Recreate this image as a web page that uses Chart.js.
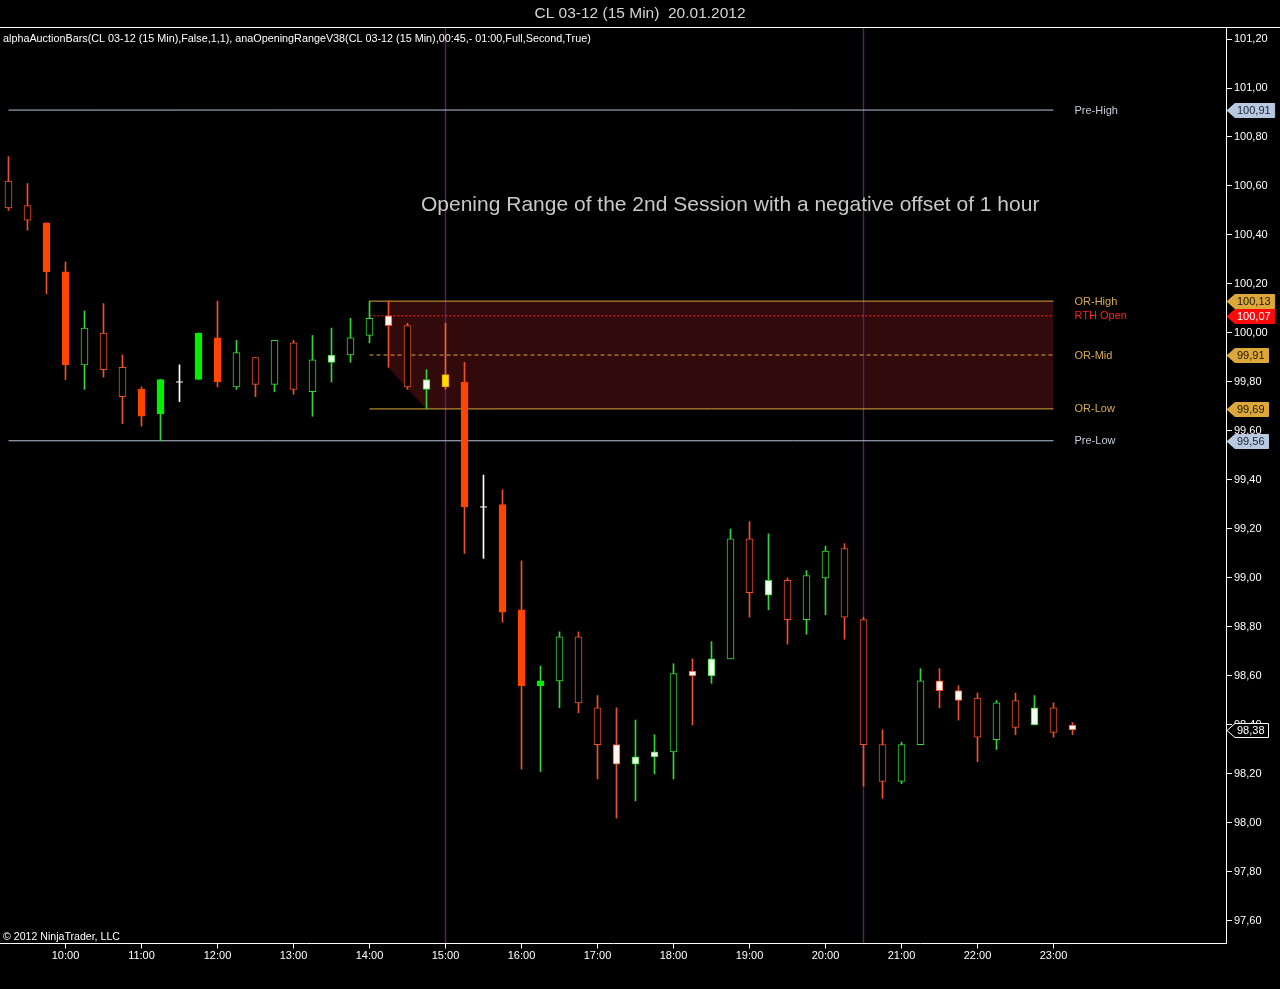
<!DOCTYPE html>
<html>
<head>
<meta charset="utf-8">
<title>CL 03-12 (15 Min) 20.01.2012</title>
<script src="https://cdn.jsdelivr.net/npm/chart.js@4.4.1/dist/chart.umd.min.js"></script>
<style>
    html, body { margin: 0; padding: 0; background: #000; overflow: hidden; }
    #wrap { width: 1280px; height: 989px; position: relative; }
</style>
</head>
<body>
<div id="wrap"><canvas id="chart"></canvas></div>
<script>
// 15 minute bars, CL 03-12, 20.01.2012
const barTimes = [
    "09:15", "09:30", "09:45",
    "10:00", "10:15", "10:30", "10:45", "11:00", "11:15", "11:30", "11:45",
    "12:00", "12:15", "12:30", "12:45", "13:00", "13:15", "13:30", "13:45",
    "14:00", "14:15", "14:30", "14:45", "15:00", "15:15", "15:30", "15:45",
    "16:00", "16:15", "16:30", "16:45", "17:00", "17:15", "17:30", "17:45",
    "18:00", "18:15", "18:30", "18:45", "19:00", "19:15", "19:30", "19:45",
    "20:00", "20:15", "20:30", "20:45", "21:00", "21:15", "21:30", "21:45",
    "22:00", "22:15", "22:30", "22:45", "23:00", "23:15"
];
const opens = [
    100.62, 100.52, 100.45, 100.25, 99.87, 100.00, 99.86, 99.77, 99.67, 99.80,
    99.81, 99.98, 99.78, 99.90, 99.79, 99.96, 99.76, 99.88, 99.91, 99.99,
    100.07, 100.03, 99.77, 99.83, 99.80, 99.29, 99.30, 98.87, 98.56, 98.58,
    98.76, 98.47, 98.32, 98.24, 98.27, 98.29, 98.62, 98.60, 98.67, 99.16,
    98.93, 98.99, 98.83, 99.00, 99.12, 98.83, 98.32, 98.17, 98.32, 98.58,
    98.54, 98.51, 98.34, 98.50, 98.40, 98.47, 98.40
];
const highs = [
    100.72, 100.61, 100.45, 100.29, 100.09, 100.12, 99.91, 99.78, 99.81, 99.87,
    100.00, 100.13, 99.97, 99.90, 99.97, 99.97, 99.99, 100.02, 100.06, 100.13,
    100.13, 100.04, 99.85, 100.04, 99.88, 99.42, 99.36, 99.07, 98.64, 98.78,
    98.78, 98.52, 98.47, 98.42, 98.36, 98.65, 98.67, 98.74, 99.20, 99.23,
    99.18, 99.00, 99.03, 99.13, 99.14, 98.84, 98.38, 98.33, 98.63, 98.63,
    98.56, 98.53, 98.50, 98.53, 98.52, 98.49, 98.41
];
const lows = [
    100.50, 100.42, 100.16, 99.81, 99.77, 99.82, 99.63, 99.62, 99.56, 99.72,
    99.81, 99.78, 99.77, 99.74, 99.76, 99.75, 99.66, 99.80, 99.88, 99.96,
    99.86, 99.77, 99.69, 99.77, 99.10, 99.08, 98.82, 98.22, 98.21, 98.47,
    98.45, 98.18, 98.02, 98.09, 98.20, 98.18, 98.40, 98.57, 98.67, 98.84,
    98.87, 98.73, 98.77, 98.85, 98.75, 98.15, 98.10, 98.16, 98.32, 98.47,
    98.42, 98.25, 98.30, 98.36, 98.40, 98.35, 98.36
];
const closes = [
    100.51, 100.46, 100.25, 99.87, 100.02, 99.85, 99.74, 99.66, 99.81, 99.80,
    100.00, 99.80, 99.92, 99.79, 99.97, 99.77, 99.89, 99.91, 99.98, 100.06,
    100.03, 99.78, 99.81, 99.78, 99.29, 99.29, 98.86, 98.56, 98.58, 98.76,
    98.49, 98.32, 98.24, 98.27, 98.29, 98.61, 98.60, 98.67, 99.16, 98.94,
    98.99, 98.83, 99.01, 99.11, 98.84, 98.32, 98.17, 98.32, 98.58, 98.54,
    98.50, 98.35, 98.49, 98.39, 98.47, 98.37, 98.38
];
// alphaAuctionBars signal per bar:
// r/R = sell (hollow/solid), g/G = buy (hollow/solid),
// w = weak sell, v = weak buy, y = absorption, x = doji
const barKind = [
    "r", "r", "R", "R", "g", "r", "r", "R", "G", "x",
    "G", "R", "g", "r", "g", "r", "g", "v", "g", "g",
    "w", "r", "v", "y", "R", "x", "R", "R", "G", "g",
    "r", "r", "w", "v", "v", "g", "w", "v", "g", "r",
    "v", "r", "g", "g", "r", "r", "r", "g", "g", "w",
    "w", "r", "g", "r", "v", "r", "w"
];
const priceTicks = [
    97.6, 97.8, 98.0, 98.2, 98.4, 98.6, 98.8, 99.0, 99.2, 99.4,
    99.6, 99.8, 100.0, 100.2, 100.4, 100.6, 100.8, 101.0, 101.2
];

// opening range levels
const levelNames = ["Pre-High", "OR-High", "RTH Open", "OR-Mid", "OR-Low", "Pre-Low"];
const levelValues = [100.91, 100.13, 100.07, 99.91, 99.69, 99.56];
// developing low of the opening range (lower edge of the shaded box)
const orDevBars = [20, 21, 22, 55];
const orDevLows = [99.86, 99.77, 99.69, 99.69];
const orStartBar = 19;
const lastPlotBar = 55;
const sessionBreakBars = [23, 45];

const Y_MIN = 97.51;
const Y_MAX = 101.249;
const X_MIN = -0.447;
const X_MAX = 64.079;

const FONT = '"Liberation Sans", Arial, sans-serif';

const RED = "#EC5129";
const GREEN = "#36D436";
const kindStyle = {
    r: { fill: "#000000", edge: RED, wick: RED },
    R: { fill: "#FF4500", edge: "#FF4500", wick: RED },
    g: { fill: "#000000", edge: GREEN, wick: GREEN },
    G: { fill: "#00F000", edge: "#00F000", wick: GREEN },
    w: { fill: "#FFF4EE", edge: RED, wick: RED },
    v: { fill: "#EEFFEE", edge: GREEN, wick: GREEN },
    y: { fill: "#FFE000", edge: "#E89A00", wick: "#E8642A" },
    x: { fill: "#FFFFFF", edge: "#FFFFFF", wick: "#FFFFFF" },
};
const levelStyle = {
    "Pre-High": { line: "#B4C4DC", text: "#C4CCDA", tag: "#B8C8E0", tagText: "#1A2030", dash: [] },
    "OR-High": { line: "#D9A63C", text: "#D8AC4C", tag: "#DCA83A", tagText: "#201400", dash: [] },
    "RTH Open": { line: "#FF2A2A", text: "#FF2020", tag: "#FF0A0A", tagText: "#FFFFFF", dash: [2, 2] },
    "OR-Mid": { line: "#D9A63C", text: "#D8AC4C", tag: "#DCA83A", tagText: "#201400", dash: [4, 3] },
    "OR-Low": { line: "#D9A63C", text: "#D8AC4C", tag: "#DCA83A", tagText: "#201400", dash: [] },
    "Pre-Low": { line: "#B4C4DC", text: "#C4CCDA", tag: "#B8C8E0", tagText: "#1A2030", dash: [] },
};

const fmtPrice = (v) => v.toFixed(2).replace(".", ",");

// candle bodies and wicks as floating bars
const bodyData = [];
const wickData = [];
const dojiData = [];
barTimes.forEach((t, i) => {
    wickData.push({ x: i, y: [lows[i], highs[i]] });
    if (barKind[i] === "x") {
        dojiData.push({ x: i, y: closes[i] });
    } else {
        bodyData.push({ x: i, y: [Math.min(opens[i], closes[i]), Math.max(opens[i], closes[i])] });
    }
});

// horizontal level lines
function levelLine(name) {
    const idx = levelNames.indexOf(name);
    const from = name.startsWith("Pre") ? 0 : orStartBar;
    const st = levelStyle[name];
    return {
        type: "line",
        data: [{ x: from, y: levelValues[idx] }, { x: lastPlotBar, y: levelValues[idx] }],
        borderColor: st.line,
        borderWidth: 1,
        borderDash: st.dash,
        pointRadius: 0,
        pointHoverRadius: 0,
        fill: false,
        order: 2,
    };
}

const datasets = [
    {
        type: "bar",
        data: bodyData,
        grouped: false,
        barThickness: 7,
        borderWidth: 1,
        borderSkipped: false,
        backgroundColor: (c) => c.raw ? kindStyle[barKind[c.raw.x]].fill : "#000",
        borderColor: (c) => c.raw ? kindStyle[barKind[c.raw.x]].edge : "#000",
        order: 0,
    },
    {
        type: "bar",
        data: wickData,
        grouped: false,
        barThickness: 1,
        borderWidth: 0,
        backgroundColor: (c) => c.raw ? kindStyle[barKind[c.raw.x]].wick : "#000",
        order: 1,
    },
    {
        type: "line",
        data: dojiData,
        showLine: false,
        pointStyle: "line",
        pointRadius: 3.5,
        pointHoverRadius: 0,
        pointBorderColor: "#FFFFFF",
        pointBorderWidth: 1,
        order: 0,
    },
    // opening range box: OR-High down to the developing low
    {
        type: "line",
        data: [{ x: orDevBars[0], y: levelValues[1] }, { x: lastPlotBar, y: levelValues[1] }],
        borderWidth: 0,
        pointRadius: 0,
        pointHoverRadius: 0,
        fill: "+1",
        backgroundColor: "#320A0C",
        order: 5,
    },
    {
        type: "line",
        data: orDevBars.map((b, k) => ({ x: b, y: orDevLows[k] })),
        borderWidth: 0,
        pointRadius: 0,
        pointHoverRadius: 0,
        fill: false,
        order: 5,
    },
    levelLine("Pre-High"),
    levelLine("OR-High"),
    levelLine("RTH Open"),
    levelLine("OR-Mid"),
    levelLine("OR-Low"),
    levelLine("Pre-Low"),
];

// session break verticals
sessionBreakBars.forEach((b) => {
    datasets.push({
        type: "line",
        data: [{ x: b, y: Y_MIN }, { x: b, y: Y_MAX }],
        borderColor: "#5E1F66",
        borderWidth: 1.4,
        pointRadius: 0,
        pointHoverRadius: 0,
        fill: false,
        order: 3,
    });
});

function drawTag(ctx, x0, y, text, fill, stroke, textColor) {
    ctx.font = "11px " + FONT;
    const w = ctx.measureText(text).width + 5;
    const h = 14;
    const top = Math.round(y - h / 2) + 0.5;
    ctx.beginPath();
    ctx.moveTo(x0, top + h / 2);
    ctx.lineTo(x0 + 8, top);
    ctx.lineTo(x0 + 9 + w, top);
    ctx.lineTo(x0 + 9 + w, top + h);
    ctx.lineTo(x0 + 8, top + h);
    ctx.closePath();
    ctx.fillStyle = fill;
    ctx.fill();
    ctx.strokeStyle = stroke;
    ctx.lineWidth = 1;
    ctx.stroke();
    ctx.fillStyle = textColor;
    ctx.textAlign = "left";
    ctx.textBaseline = "middle";
    ctx.fillText(text, x0 + 10, top + h / 2 + 0.5);
}

const hourTicks = barTimes.map((t, i) => (t.endsWith(":00") ? i : -1)).filter((i) => i >= 0);

const overlayPlugin = {
    id: "overlay",
    afterDraw(chart) {
        const { ctx, chartArea, scales } = chart;
        const xs = scales.x;
        const ys = scales.y;
        ctx.save();

        // frame line under the title
        ctx.strokeStyle = "#FFFFFF";
        ctx.lineWidth = 1;
        ctx.beginPath();
        ctx.moveTo(0, Math.floor(chartArea.top) + 0.5);
        ctx.lineTo(chart.width, Math.floor(chartArea.top) + 0.5);
        ctx.stroke();

        // hour tick marks below the time axis
        const axisY = Math.floor(chartArea.bottom) + 0.5;
        hourTicks.forEach((i) => {
            const px = Math.floor(xs.getPixelForValue(i)) + 0.5;
            ctx.beginPath();
            ctx.moveTo(px, axisY);
            ctx.lineTo(px, axisY + 5);
            ctx.stroke();
        });

        ctx.fillStyle = "#FFFFFF";
        ctx.textAlign = "left";
        ctx.textBaseline = "middle";
        ctx.font = "10.8px " + FONT;
        ctx.fillText(
            "alphaAuctionBars(CL 03-12 (15 Min),False,1,1), anaOpeningRangeV38(CL 03-12 (15 Min),00:45,- 01:00,Full,Second,True)",
            3, 39
        );
        ctx.font = "10.6px " + FONT;
        ctx.fillText("\u00A9 2012 NinjaTrader, LLC", 3, 937);

        ctx.fillStyle = "#C8C8C8";
        ctx.font = "21px " + FONT;
        ctx.fillText("Opening Range of the 2nd Session with a negative offset of 1 hour", 421, 205);

        // level captions and price tags
        const labelX = xs.getPixelForValue(lastPlotBar) + 21;
        levelNames.forEach((name, i) => {
            const st = levelStyle[name];
            const py = ys.getPixelForValue(levelValues[i]);
            ctx.font = "11px " + FONT;
            ctx.fillStyle = st.text;
            ctx.textAlign = "left";
            ctx.textBaseline = "middle";
            ctx.fillText(name, labelX, py + 0.5);
            drawTag(ctx, chartArea.right + 1, py, fmtPrice(levelValues[i]), st.tag, st.tag, st.tagText);
        });
        const last = closes[closes.length - 1];
        drawTag(ctx, chartArea.right + 1, ys.getPixelForValue(last), fmtPrice(last), "#000000", "#FFFFFF", "#FFFFFF");

        ctx.restore();
    },
};

new Chart(document.getElementById("chart"), {
    type: "bar",
    data: { datasets: datasets },
    plugins: [overlayPlugin],
    options: {
        responsive: true,
        maintainAspectRatio: false,
        animation: false,
        events: [],
        layout: { padding: 0, autoPadding: false },
        plugins: {
            legend: { display: false },
            tooltip: { enabled: false },
            title: {
                display: true,
                text: "CL 03-12 (15 Min)  20.01.2012",
                color: "#D4D4D4",
                font: { family: FONT, size: 15.5, weight: "normal", lineHeight: 1.2 },
                padding: { top: 4, bottom: 4.4 },
            },
        },
        scales: {
            x: {
                type: "linear",
                min: X_MIN,
                max: X_MAX,
                offset: false,
                afterBuildTicks: (axis) => {
                    axis.ticks = hourTicks.map((v) => ({ value: v }));
                },
                afterFit: (axis) => {
                    axis.height = 46;
                },
                ticks: {
                    color: "#FFFFFF",
                    font: { family: FONT, size: 11 },
                    padding: 1,
                    maxRotation: 0,
                    autoSkip: false,
                    callback: (v) => barTimes[v],
                },
                grid: { offset: false, drawOnChartArea: false, color: "#FFFFFF", tickColor: "#FFFFFF", tickLength: 5 },
                border: { color: "#FFFFFF", width: 1 },
            },
            y: {
                type: "linear",
                position: "right",
                min: Y_MIN,
                max: Y_MAX,
                afterBuildTicks: (axis) => {
                    axis.ticks = priceTicks.map((v) => ({ value: v }));
                },
                afterFit: (axis) => {
                    axis.width = 54;
                },
                ticks: {
                    color: "#FFFFFF",
                    font: { family: FONT, size: 11 },
                    padding: 2,
                    callback: (v) => fmtPrice(v),
                },
                grid: { drawOnChartArea: false, color: "#FFFFFF", tickLength: 6 },
                border: { color: "#FFFFFF", width: 1 },
            },
        },
    },
});
</script>
</body>
</html>
